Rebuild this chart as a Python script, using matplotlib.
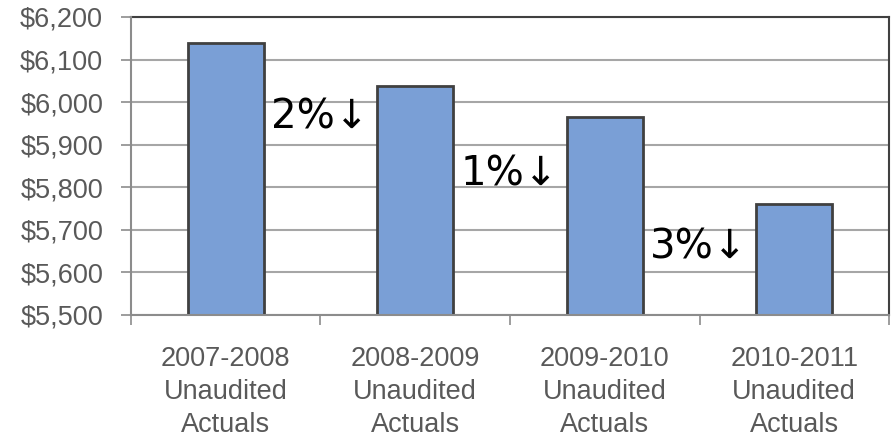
import numpy as np
import matplotlib
matplotlib.use('Agg')
import matplotlib.pyplot as plt
from matplotlib.ticker import FuncFormatter, MultipleLocator, FixedLocator

# 数据
categories = ['2007-2008\nUnaudited\nActuals', '2008-2009\nUnaudited\nActuals',
              '2009-2010\nUnaudited\nActuals', '2010-2011\nUnaudited\nActuals']
values = [6138, 6038, 5965, 5761]
change_labels = ['2%↓', '1%↓', '3%↓']

bar_color = '#7A9FD6'
edge_color = '#404040'
grid_color = '#A6A6A6'
text_gray = '#595959'

plt.rcParams['font.family'] = ['Liberation Sans', 'DejaVu Sans']

fig = plt.figure(figsize=(8.96, 4.4), dpi=100)
ax = fig.add_axes([0.1462, 0.2841, 0.846, 0.6773])

x = np.arange(len(categories))
ax.bar(x, values, width=0.4, color=bar_color, edgecolor=edge_color, linewidth=2, zorder=3)

ax.set_ylim(5500, 6200)
ax.set_xlim(-0.5, len(categories) - 0.5)
ax.yaxis.set_major_locator(MultipleLocator(100))
ax.yaxis.set_major_formatter(FuncFormatter(lambda v, p: '${:,.0f}'.format(v)))
ax.grid(axis='y', color=grid_color, linewidth=1.5, zorder=0)

# x轴: 标签在中间, 刻度在类别边界
ax.set_xticks(x)
ax.set_xticklabels(categories, linespacing=1.36)
ax.xaxis.set_minor_locator(FixedLocator(np.arange(-0.5, len(categories), 1.0)))
ax.tick_params(axis='x', which='major', length=0, pad=22, labelsize=19.5, labelcolor=text_gray)
ax.tick_params(axis='x', which='minor', length=7, width=1.2, color='#8C8C8C', direction='out')
ax.tick_params(axis='y', length=7, width=1.2, color='#8C8C8C', pad=13, labelsize=19.5, labelcolor=text_gray)

for side in ['top', 'right']:
    ax.spines[side].set_color(edge_color)
    ax.spines[side].set_linewidth(1.5)
for side in ['left', 'bottom']:
    ax.spines[side].set_color('#8C8C8C')
    ax.spines[side].set_linewidth(1.5)
    ax.spines[side].set_zorder(4)

# 百分比变化标注
label_y = [5965, 5829, 5658]
for i, lab in enumerate(change_labels):
    ax.text(i + 0.24, label_y[i], lab, fontsize=29, family=['DejaVu Sans'],
            ha='left', va='center', color='black', zorder=5)

plt.savefig('out.png', dpi=100)
